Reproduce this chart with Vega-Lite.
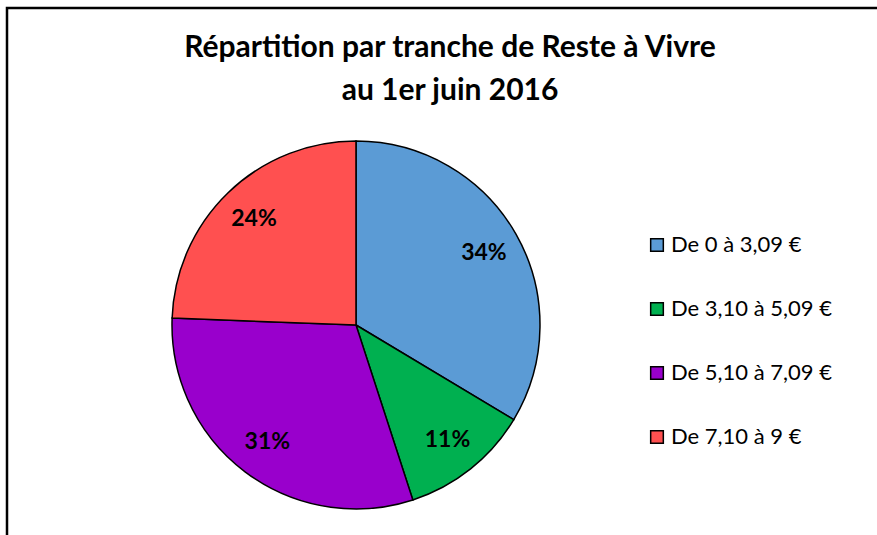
{
  "$schema": "https://vega.github.io/schema/vega-lite/v6.json",
  "width": 886,
  "height": 537,
  "autosize": {"type": "none"},
  "padding": {"left": 7, "top": 8, "right": -16, "bottom": -10},
  "background": "white",
  "config": {
    "view": {"stroke": "black", "strokeWidth": 2.5},
    "font": "Lato"
  },
  "title": {
    "text": ["Répartition par tranche de Reste à Vivre", "au 1er juin 2016"],
    "font": "Lato",
    "fontSize": 30,
    "fontWeight": "bold",
    "color": "black",
    "lineHeight": 43,
    "anchor": "middle",
    "frame": "group",
    "offset": -98
  },
  "data": {
    "values": [
      {"tranche": "De 0 à 3,09 €", "part": 0.336},
      {"tranche": "De 3,10 à 5,09 €", "part": 0.114},
      {"tranche": "De 5,10 à 7,09 €", "part": 0.306},
      {"tranche": "De 7,10 à 9 €", "part": 0.244}
    ]
  },
  "encoding": {
    "theta": {"field": "part", "type": "quantitative", "stack": true},
    "order": {"field": "tranche", "type": "nominal", "sort": "ascending"},
    "x": {"datum": 0.3939, "type": "quantitative", "scale": {"domain": [0, 1]}, "axis": null},
    "y": {"datum": 0.5903, "type": "quantitative", "scale": {"domain": [0, 1], "reverse": true}, "axis": null}
  },
  "layer": [
    {
      "mark": {"type": "arc", "outerRadius": 184, "stroke": "black", "strokeWidth": 1.5},
      "encoding": {
        "color": {
          "field": "tranche",
          "type": "nominal",
          "scale": {
            "domain": ["De 0 à 3,09 €", "De 3,10 à 5,09 €", "De 5,10 à 7,09 €", "De 7,10 à 9 €"],
            "range": ["#5B9BD5", "#00B050", "#9900CC", "#FF5050"]
          },
          "legend": {
            "title": null,
            "orient": "none",
            "legendX": 639,
            "legendY": 226,
            "padding": 0,
            "symbolType": "square",
            "symbolSize": 160,
            "symbolStrokeColor": "black",
            "symbolStrokeWidth": 1.5,
            "symbolOpacity": 1,
            "labelFont": "Lato",
            "labelFontSize": 22,
            "labelColor": "black",
            "labelOffset": 3,
            "rowPadding": 42,
            "labelLimit": 300
          }
        }
      }
    },
    {
      "mark": {"type": "text", "radius": 147, "font": "Lato", "fontSize": 23, "fontWeight": "bold", "color": "black"},
      "encoding": {
        "detail": {"field": "tranche", "type": "nominal"},
        "text": {"field": "part", "type": "quantitative", "format": ".0%"}
      }
    }
  ]
}
